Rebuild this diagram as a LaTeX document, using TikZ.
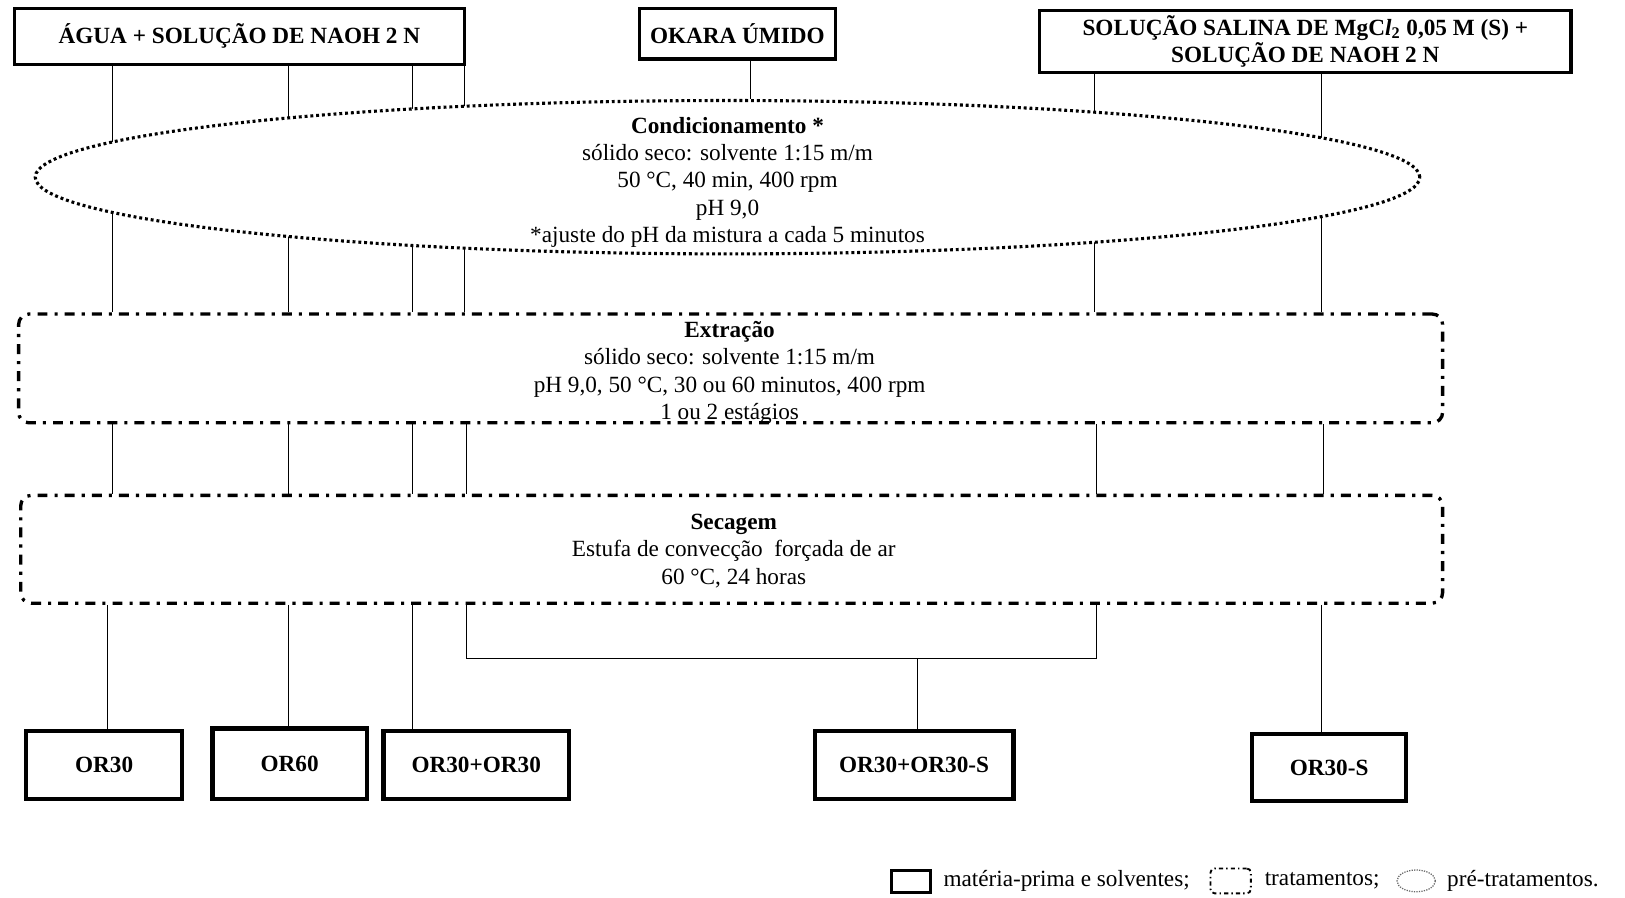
\documentclass[tikz,border=0pt]{standalone}
\usepackage{fontspec}
\setmainfont{Liberation Serif}
\usetikzlibrary{shapes.geometric,backgrounds}
\begin{document}
\begin{tikzpicture}[x=0.5pt,y=-0.5pt,
  every node/.style={font=\fontsize{11.2}{13.2}\selectfont, inner sep=0pt},
  solidbox/.style={draw, line width=1.6pt, fill=white, align=center, font=\fontsize{11.2}{12}\selectfont\bfseries},
  resultbox/.style={solidbox, line width=2pt},
  dashdotbox/.style={draw, line width=1.6pt, rounded corners=5pt, dash pattern=on 4.8pt off 3.4pt on 1.5pt off 3.4pt, fill=white},
  dotellipse/.style={draw, ellipse, line width=1.5pt, dash pattern=on 1.4pt off 1.4pt, fill=white},
  link/.style={line width=1.4pt},
  steptext/.style={align=center}
]
\useasboundingbox (0,0) rectangle (1568,866);

% raw materials and solvents
\node[solidbox, minimum width=217pt, minimum height=27pt] (agua) at (231,35) {ÁGUA + SOLUÇÃO DE NAOH 2 N};
\node[solidbox, minimum width=94.5pt, minimum height=24.5pt] (okara) at (711.5,32.5) {OKARA ÚMIDO};
\node[solidbox, minimum width=256.5pt, minimum height=30pt] (salina) at (1259.5,40) {SOLUÇÃO SALINA DE MgC\textit{l}\textsubscript{2} 0,05 M (S) +\\SOLUÇÃO DE NAOH 2 N};

% pre-treatment
\node[dotellipse, minimum width=668pt, minimum height=74pt] (cond) at (702,171) {};
\node[steptext] (condtxt) at (702,176) {\textbf{Condicionamento *}\\sólido seco: solvente 1:15 m/m\\50 °C, 40 min, 400 rpm\\pH 9,0\\*ajuste do pH da mistura a cada 5 minutos};

% treatments
\node[dashdotbox, minimum width=687pt, minimum height=52.5pt] (extr) at (705,355.5) {};
\node[steptext] (extrtxt) at (704,360) {\textbf{Extração}\\sólido seco: solvente 1:15 m/m\\pH 9,0, 50 °C, 30 ou 60 minutos, 400 rpm\\1 ou 2 estágios};

\node[dashdotbox, minimum width=686pt, minimum height=52pt] (sec) at (706,530) {};
\node[steptext] (sectxt) at (708,531.5) {\textbf{Secagem}\\Estufa de convecção\ \ forçada de ar\\60 °C, 24 horas};

% products
\node[resultbox, minimum width=75.5pt, minimum height=33pt] (or30) at (100.5,738) {OR30};
\node[resultbox, minimum width=74.5pt, minimum height=34pt] (or60) at (279.5,737) {OR60};
\node[resultbox, minimum width=89.5pt, minimum height=33pt] (or3030) at (459.5,738) {OR30+OR30};
\node[resultbox, minimum width=96pt, minimum height=33pt] (or3030s) at (882,738) {OR30+OR30-S};
\node[resultbox, minimum width=74.5pt, minimum height=32.5pt] (or30s) at (1282.5,740.5) {OR30-S};

\coordinate (join) at (885,635);

% connectors
\begin{scope}[on background layer, link]
  \foreach \x in {108,278,398,448} \draw (agua.south -| \x,0) -- (extr.north -| \x,0);
  \foreach \x in {1056,1275} \draw (salina.south -| \x,0) -- (extr.north -| \x,0);
  \draw (okara.south -| 724,0) -- (cond.north -| 724,0);
  \foreach \x in {108,278,398,450,1058,1277} \draw (extr.south -| \x,0) -- (sec.north -| \x,0);
  \draw (sec.south -| 104,0) -- (or30.north -| 104,0);
  \draw (sec.south -| 278,0) -- (or60.north -| 278,0);
  \draw (sec.south -| 398,0) -- (or3030.north -| 398,0);
  \draw (sec.south -| 450,0) |- (join) -| (sec.south -| 1058,0);
  \draw (join) -- (or3030s.north -| join);
  \draw (sec.south -| 1275,0) -- (or30s.north -| 1275,0);
\end{scope}

% legend
\node[solidbox, minimum width=19pt, minimum height=10.5pt] (lgraw) at (879,850.5) {};
\node[anchor=west] (lgrawtxt) at (910,850) {matéria-prima e solventes;};
\node[dashdotbox, minimum width=19.5pt, minimum height=12pt, line width=0.9pt, dash pattern=on 2pt off 1.5pt on 0.7pt off 1.5pt, rounded corners=2pt] (lgtrat) at (1187.5,850) {};
\node[anchor=west] (lgtrattxt) at (1220,850) {tratamentos;};
\node[dotellipse, minimum width=18.5pt, minimum height=10.5pt, line width=0.6pt, dash pattern=on 0.6pt off 0.6pt, draw=black!60] (lgpre) at (1366.5,850) {};
\node[anchor=west] (lgpretxt) at (1396,850) {pré-tratamentos.};
\end{tikzpicture}
\end{document}
